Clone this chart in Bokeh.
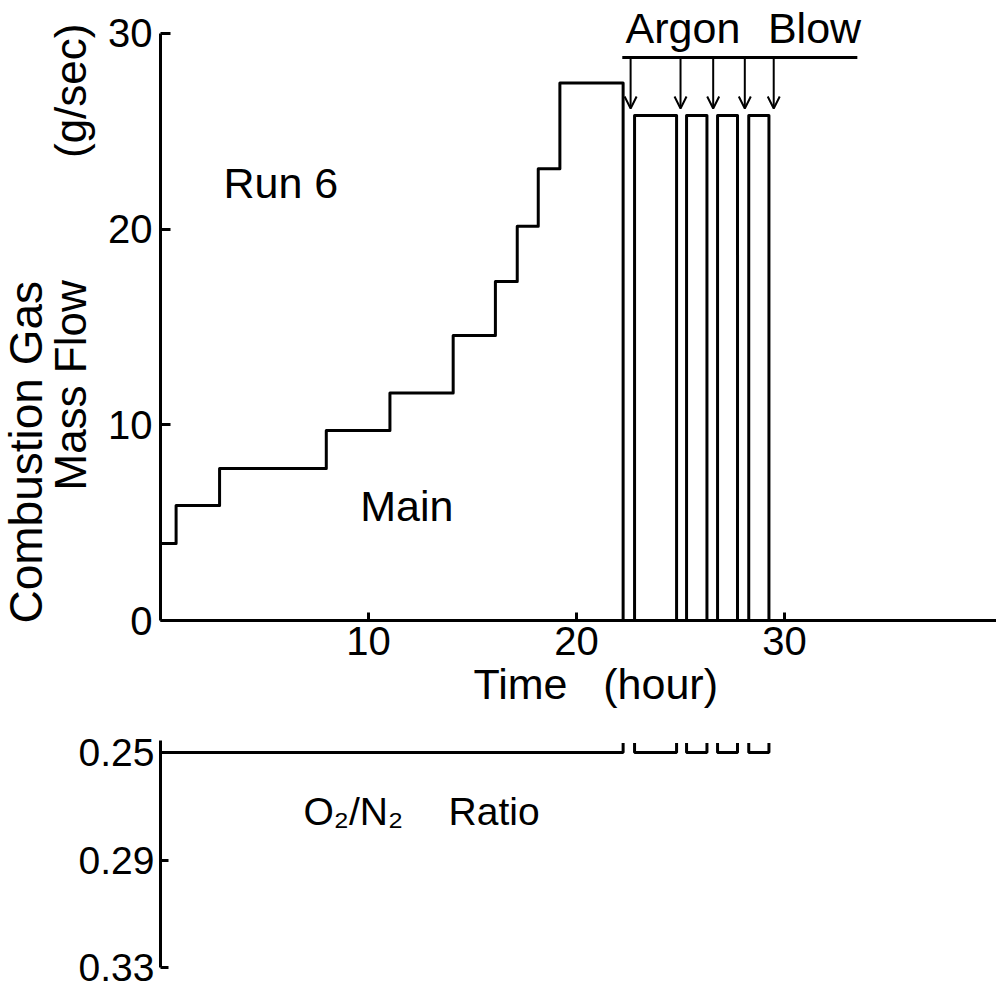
import math
from bokeh.plotting import figure
from bokeh.models import Range1d, FixedTicker, Label, Arrow, OpenHead, ColumnDataSource, Title
from bokeh.layouts import column
from bokeh.embed import file_html
from bokeh.resources import INLINE

# ---------------- data ----------------
step_times = [0.0, 0.75, 2.84, 7.97, 11.03, 14.07, 16.10, 17.15, 18.16, 19.20, 22.24]
step_flows = [3.93, 5.88, 7.77, 9.71, 11.63, 14.56, 17.32, 20.15, 23.08, 27.46]
pulse_start = [22.79, 25.29, 26.78, 28.28]
pulse_end = [24.81, 26.27, 27.74, 29.25]
pulse_flow = 25.8
argon_times = [22.6, 25.0, 26.57, 28.09, 29.48]
argon_bar = [22.2, 33.5]
argon_bar_level = 28.77
argon_tip_level = 26.16
ratio_level = 0.25
ratio_edge = 0.2465
x_ticks = [10, 20, 30]
y_ticks = [0, 10, 20, 30]
ratio_ticks = [0.25, 0.29, 0.33]

FONT = "Liberation Sans"
LW = 3
NB = "\u00a0"

# ---------------- top panel ----------------
xr = Range1d(0, 40.19)
p1 = figure(width=996, height=730, x_range=xr, y_range=Range1d(0, 31.68),
            output_backend="svg", toolbar_location=None,
            min_border_left=160, min_border_right=0, min_border_top=0, min_border_bottom=110)
p1.outline_line_color = None
p1.grid.visible = False

for ax in (p1.xaxis[0], p1.yaxis[0]):
    ax.axis_line_width = LW
    ax.axis_line_color = "black"
    ax.major_tick_line_width = LW
    ax.major_tick_line_color = "black"
    ax.minor_tick_line_color = None
    ax.major_tick_out = 0
    ax.major_label_text_font = FONT
    ax.major_label_text_font_size = "40px"
    ax.major_label_text_color = "black"
p1.xaxis.ticker = FixedTicker(ticks=x_ticks)
p1.yaxis.ticker = FixedTicker(ticks=y_ticks)
p1.xaxis.major_tick_in = 8
p1.yaxis.major_tick_in = 10
p1.yaxis.bounds = (0, 30)
p1.xaxis.major_label_standoff = 6
p1.yaxis.major_label_standoff = 8

# axis titles as side titles (left titles read bottom-to-top; offset moves them up)
p1.add_layout(Title(text="Mass" + NB + "Flow" + NB * 10 + "(g/sec)", align="left", offset=130,
                    standoff=22, text_font=FONT, text_font_size="44px",
                    text_font_style="normal", text_color="black"), "left")
p1.add_layout(Title(text="Combustion" + NB + "Gas", align="left", offset=-3,
                    standoff=-39, text_font=FONT, text_font_size="46px",
                    text_font_style="normal", text_color="black"), "left")
p1.add_layout(Title(text="Time" + NB * 3 + "(hour)", align="left", offset=313,
                    standoff=0, text_font=FONT, text_font_size="43px",
                    text_font_style="normal", text_color="black"), "below")

# main step path
sx = [step_times[0]]
sy = [step_flows[0]]
for i in range(1, len(step_times)):
    sx.append(step_times[i]); sy.append(step_flows[i - 1])
    if i < len(step_flows):
        sx.append(step_times[i]); sy.append(step_flows[i])
sx.append(step_times[-1]); sy.append(0)
p1.line(sx, sy, line_width=LW, color="black", line_join="round")

# pulses
pxs = [[s, s, e, e] for s, e in zip(pulse_start, pulse_end)]
pys = [[0, pulse_flow, pulse_flow, 0] for _ in pulse_start]
p1.multi_line(pxs, pys, line_width=LW, color="black", line_join="round")

# argon blow bar and arrows
p1.line(argon_bar, [argon_bar_level, argon_bar_level], line_width=LW, color="black")
asrc = ColumnDataSource(dict(x=argon_times,
                             y0=[argon_bar_level] * len(argon_times),
                             y1=[argon_tip_level] * len(argon_times)))
p1.add_layout(Arrow(end=OpenHead(size=12, line_width=2, line_color="black"),
                    x_start="x", y_start="y0", x_end="x", y_end="y1",
                    source=asrc, line_width=2, line_color="black"))

def lab(p, x, y, t, size, font=FONT):
    p.add_layout(Label(x=x, y=y, text=t, text_font=font, text_font_size=size,
                       text_align="left", text_baseline="alphabetic",
                       text_color="black"))

lab(p1, 3.03, 22.33, "Run 6", "43px")
lab(p1, 9.6, 5.85, "Main", "43px")
lab(p1, 22.36, 30.30, "Argon", "43px")
lab(p1, 29.2, 30.30, "Blow", "43px")

# ---------------- bottom panel ----------------
p2 = figure(width=996, height=259, x_range=xr, y_range=Range1d(0.33, 0.24181),
            output_backend="svg", toolbar_location=None,
            min_border_left=160, min_border_right=0, min_border_top=0, min_border_bottom=22)
p2.outline_line_color = None
p2.grid.visible = False
p2.xaxis.visible = False
ay = p2.yaxis[0]
ay.axis_line_width = LW
ay.major_tick_line_width = LW
ay.minor_tick_line_color = None
ay.major_tick_out = 0
ay.major_tick_in = 8
ay.ticker = FixedTicker(ticks=ratio_ticks)
ay.major_label_overrides = {t: f"{t:.2f}" for t in ratio_ticks}
ay.major_label_text_font = FONT
ay.major_label_text_font_size = "39px"
ay.major_label_text_color = "black"
ay.major_label_standoff = 6
ay.bounds = (0.2455, 0.33)

rxs = [[0, step_times[-1], step_times[-1]]]
rys = [[ratio_level, ratio_level, ratio_edge]]
for s, e in zip(pulse_start, pulse_end):
    rxs.append([s, s, e, e])
    rys.append([ratio_edge, ratio_level, ratio_level, ratio_edge])
p2.multi_line(rxs, rys, line_width=LW, color="black")

lab(p2, 6.875, 0.2719, "O₂/N₂", "39px")
lab(p2, 13.85, 0.2719, "Ratio", "39px")

layout = column(p1, p2, spacing=0)
open("out.html", "w").write(file_html(layout, INLINE))
